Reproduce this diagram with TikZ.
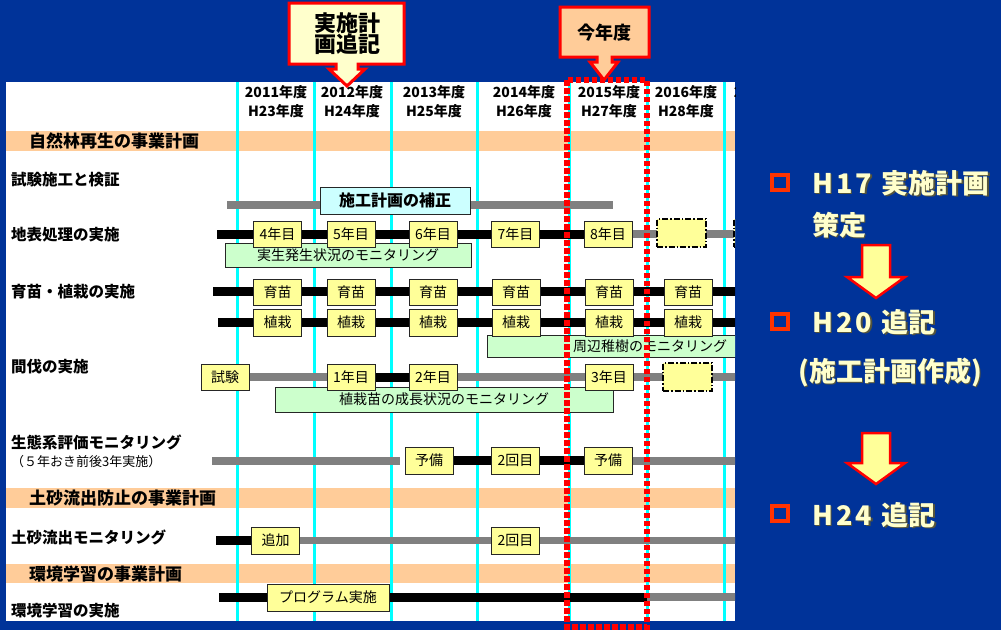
\documentclass[tikz,border=0pt]{standalone}
\usepackage{fontspec}
\setmainfont{Noto Sans CJK JP}
\newcommand\myfs[1]{\fontsize{#1}{#1}\selectfont}
\definecolor{bgblue}{HTML}{003399}
\definecolor{band}{HTML}{FFCC99}
\definecolor{cyanl}{HTML}{00FFFF}
\definecolor{boxy}{HTML}{FFFF99}
\definecolor{boxg}{HTML}{CCFFCC}
\definecolor{boxc}{HTML}{CCFFFF}
\definecolor{barg}{HTML}{808080}
\definecolor{cream}{HTML}{FFFFCC}
\definecolor{shad}{HTML}{55553A}
\definecolor{bullet}{HTML}{FF3300}
\tikzset{
  yb/.style={draw=black!85, line width=1pt, fill=boxy, minimum width=48pt, minimum height=26pt, inner sep=0pt, font=\myfs{14}},
  ybd/.style={yb, draw=black, line width=1.4pt, dash pattern=on 6pt off 2pt on 1.5pt off 2pt, minimum height=28pt},
  gb/.style={draw=black!85, line width=1pt, fill=boxg, minimum height=24pt, inner sep=0pt, font=\myfs{14}},
  blackbar/.style={line width=9pt, black},
  graybar/.style={line width=8pt, barg},
  hdr/.style={font=\bfseries\myfs{14}, inner sep=0pt},
  rowlab/.style={font=\bfseries\myfs{15.5}, anchor=west, inner sep=0pt},
  seclab/.style={font=\bfseries\myfs{17}, anchor=west, inner sep=0pt},
  rtext/.style={font=\bfseries\myfs{27}, anchor=west, inner sep=0pt, text=cream},
  rshadow/.style={font=\bfseries\myfs{27}, anchor=west, inner sep=0pt, text=shad},
  callout/.style={draw=red, line width=3pt, line join=miter},
  bigarrow/.style={draw=red, line width=2.5pt, fill=boxy, line join=miter},
  bulletsq/.style={draw=bullet, line width=3.5pt},
}
\begin{document}
\begin{tikzpicture}[x=1pt,y=-1pt]
\fill[bgblue] (0,0) rectangle (1001,630);
\useasboundingbox (0,0) rectangle (1001,630);
\begin{scope}
\clip (6,82) rectangle (735,621);
\fill[white] (6,82) rectangle (735,621);
\fill[band] (6,131) rectangle (735,151);
\fill[band] (6,488) rectangle (735,508);
\fill[band] (6,564) rectangle (735,583);
\foreach \x in {237,314,391,477,569,647,724} \draw[cyanl, line width=3pt] (\x,82) -- (\x,621);
% headers
\node[hdr] (h1a) at (276,92) {2011年度}; \node[hdr] (h1b) at (276,111) {H23年度};
\node[hdr] (h2a) at (352,92) {2012年度}; \node[hdr] (h2b) at (352,111) {H24年度};
\node[hdr] (h3a) at (434,92) {2013年度}; \node[hdr] (h3b) at (434,111) {H25年度};
\node[hdr] (h4a) at (524,92) {2014年度}; \node[hdr] (h4b) at (524,111) {H26年度};
\node[hdr] (h5a) at (609,92) {2015年度}; \node[hdr] (h5b) at (609,111) {H27年度};
\node[hdr] (h6a) at (686,92) {2016年度}; \node[hdr] (h6b) at (686,111) {H28年度};
\node[hdr] (h7a) at (765,92) {2017年度}; \node[hdr] (h7b) at (765,111) {H29年度};
% section and row labels
\node[seclab] (s1) at (29,141) {自然林再生の事業計画};
\node[seclab] (s2) at (29,498) {土砂流出防止の事業計画};
\node[seclab] (s3) at (29,574) {環境学習の事業計画};
\node[rowlab] (r1) at (11,180) {試験施工と検証};
\node[rowlab] (r2) at (11,235) {地表処理の実施};
\node[rowlab] (r3) at (11,292) {育苗・植栽の実施};
\node[rowlab] (r4) at (11,367) {間伐の実施};
\node[rowlab] (r5) at (11,442) {生態系評価モニタリング};
\node[font=\myfs{13}, anchor=west, inner sep=0pt] (r5b) at (11,462) {（５年おき前後3年実施）};
\node[rowlab] (r6) at (11,537) {土砂流出モニタリング};
\node[rowlab] (r7) at (11,611) {環境学習の実施};
% bar coordinates
\coordinate (a1) at (227,205); \coordinate (a2) at (613,205);
\coordinate (b0) at (217,234); \coordinate (b8) at (608,234); \coordinate (b9) at (745,234);
\coordinate (c0) at (213,291.5); \coordinate (c9) at (745,291.5);
\coordinate (d0) at (218,322); \coordinate (d9) at (745,322);
\coordinate (e0) at (225,377); \coordinate (e1) at (351,377); \coordinate (e2) at (433,377); \coordinate (e9) at (745,377);
\coordinate (f0) at (212,460.5); \coordinate (f1) at (400,460.5); \coordinate (f2) at (429,460.5); \coordinate (f3) at (608,460.5); \coordinate (f9) at (745,460.5);
\coordinate (g0) at (216,540); \coordinate (g1) at (275.5,540); \coordinate (g9) at (745,540);
\coordinate (k0) at (219,597); \coordinate (k1) at (647,597); \coordinate (k9) at (745,597);
% bars
\draw[graybar] (a1) -- (a2);
\draw[blackbar] (b0) -- (b8);
\draw[graybar] (b8) -- (b9);
\draw[blackbar] (c0) -- (c9);
\draw[blackbar] (d0) -- (d9);
\draw[graybar] (e0) -- (e9);
\draw[blackbar] (e1) -- (e2);
\draw[graybar] (f0) -- (f1);
\draw[blackbar] (f2) -- (f3);
\draw[graybar] (f3) -- (f9);
\draw[blackbar] (g0) -- (g1);
\draw[graybar, line width=7pt] (g1) -- (g9);
\draw[blackbar] (k0) -- (k1);
\draw[graybar] (k1) -- (k9);
% row 1
\node[draw=black!85, line width=1pt, fill=boxc, minimum width=150pt, minimum height=27pt, inner sep=0pt, font=\bfseries\myfs{16}] (hosei) at (395,200.5) {施工計画の補正};
% row 2
\node[gb, minimum width=246pt] (mon1) at (348,255) {実生発生状況のモニタリング};
\node[yb] (y4) at (277.5,234) {4年目};
\node[yb] (y5) at (351,234) {5年目};
\node[yb] (y6) at (433,234) {6年目};
\node[yb] (y7) at (515.5,234) {7年目};
\node[yb] (y8) at (b8) {8年目};
\node[ybd, minimum width=49pt] (y9) at (681.5,233) {};
\node[ybd, minimum width=49pt] (y10) at (758.5,233) {};
% row 3 / 4
\node[gb, minimum width=326pt, minimum height=22pt] (mon2) at (650,346) {周辺稚樹のモニタリング};
\foreach \x/\n in {277.5/1,351/2,433/3,516/4,609/5,688/6} {
  \node[yb] (ik\n) at (\x,292) {育苗};
  \node[yb, minimum height=27pt] (sk\n) at (\x,322.5) {植栽};
}
% row 5
\node[gb, minimum width=338pt, minimum height=25pt] (mon3) at (444,399.5) {植栽苗の成長状況のモニタリング};
\node[yb] (t0) at (e0) {試験};
\node[yb] (t1) at (e1) {1年目};
\node[yb] (t2) at (e2) {2年目};
\node[yb] (t3) at (609,377) {3年目};
\node[ybd, minimum width=49pt] (t4) at (687.5,377) {};
% row 6
\node[yb, minimum height=27pt] (p1) at (f2) {予備};
\node[yb, minimum height=27pt] (p2) at (515.5,460.5) {2回目};
\node[yb, minimum height=27pt] (p3) at (f3) {予備};
% row 7
\node[yb, minimum height=27pt] (q1) at (275.5,540.5) {追加};
\node[yb, minimum height=27pt] (q2) at (515.5,540.5) {2回目};
% row 8
\node[yb, minimum width=122pt, minimum height=27pt] (pg) at (328,597.5) {プログラム実施};
\end{scope}
% current year frame
\draw[red, line width=5.5pt, dash pattern=on 5.5pt off 2.5pt] (567,80) rectangle (647,627);
% callouts
\draw[callout, fill=cream] (289,3) -- (404,3) -- (404,64) -- (358,64) -- (358,69) -- (365,69) -- (347,86) -- (329,69) -- (336,69) -- (336,64) -- (289,64) -- cycle;
\node[font=\bfseries\myfs{22}, align=center, inner sep=0pt] (c1) at (347,34) {実施計\\[-1pt]画追記};
\draw[callout, fill=band] (560,7) -- (649,7) -- (649,57) -- (612,57) -- (612,62) -- (618,62) -- (604,80) -- (590,62) -- (597,62) -- (597,57) -- (560,57) -- cycle;
\node[font=\bfseries\myfs{18}, inner sep=0pt] (c2) at (604.5,33) {今年度};
% right side
\draw[bulletsq] (772,175) rectangle (788,190);
\draw[bulletsq] (772,314) rectangle (788,329);
\draw[bulletsq] (772,506) rectangle (788,521);
\foreach \t/\x/\y in {{H\hspace{3pt}1\hspace{3pt}7\hspace{10pt}実施計画}/812/183, {策定}/812/225, {H\hspace{3pt}2\hspace{3pt}0\hspace{10pt}追記}/812/322, {(施工計画作成)}/798/372, {H\hspace{3pt}2\hspace{3pt}4\hspace{10pt}追記}/812/515} {
  \node[rshadow] at (\x+1.5,\y+1.5) {\t};
  \node[rtext] at (\x,\y) {\t};
}
\draw[bigarrow] (862,245) -- (890,245) -- (890,277) -- (905,277) -- (876,298) -- (847,277) -- (862,277) -- cycle;
\draw[bigarrow] (862,433) -- (890,433) -- (890,463) -- (905,463) -- (876,484) -- (847,463) -- (862,463) -- cycle;
\end{tikzpicture}
\end{document}
